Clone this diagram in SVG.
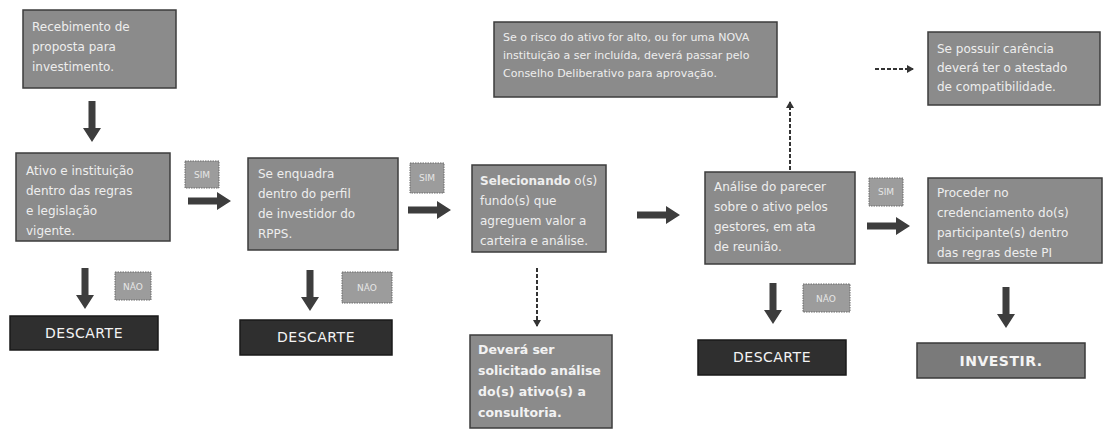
<svg xmlns="http://www.w3.org/2000/svg" width="1108" height="432" viewBox="0 0 1108 432">
<style>
.box{fill:#8b8b8b;stroke:#3c3c3c;stroke-width:1.5}
.tag{fill:#9c9c9c;stroke:#6a6a6a;stroke-width:1;stroke-dasharray:1.5 1}
.dark{fill:#2f2f2f;stroke:#1a1a1a;stroke-width:1.5}
.inv{fill:#7a7a7a;stroke:#3a3a3a;stroke-width:1.5}
.t{font-family:"DejaVu Sans",sans-serif;font-size:12px;fill:#eeeeee}
.ts{font-family:"DejaVu Sans",sans-serif;font-size:11px;fill:#eeeeee}
.tb{font-family:"DejaVu Sans",sans-serif;font-size:12.5px;font-weight:bold;fill:#f2f2f2}
.lbl{font-family:"DejaVu Sans",sans-serif;font-size:9px;fill:#e6e6e6;text-anchor:middle}
.big{font-family:"DejaVu Sans",sans-serif;font-size:14px;fill:#f4f4f4;text-anchor:middle;letter-spacing:0.5px}
.dash{stroke:#333;stroke-width:2;stroke-dasharray:4 2;fill:none;marker-end:url(#ah)}
.thick{fill:#3d3d3d}
</style>
<defs>
<marker id="ah" markerWidth="8" markerHeight="8" refX="6" refY="4" orient="auto" markerUnits="userSpaceOnUse">
<path d="M0,0 L7,4 L0,8 Z" fill="#333"/>
</marker>
<path id="ar" d="M0,-3.5 H29 V-9 L43,0 L29,9 V3.5 H0 Z"/>
<path id="ad" d="M-3.5,0 V27 H-9 L0,41 L9,27 H3.5 V0 Z"/>
</defs>

<g id="connectors">
<use href="#ad" class="thick" x="92" y="101"/>
<use href="#ar" class="thick" x="188" y="201"/>
<use href="#ar" class="thick" x="408" y="210"/>
<use href="#ar" class="thick" x="637" y="215"/>
<use href="#ar" class="thick" x="867" y="226"/>
<use href="#ad" class="thick" x="85" y="268"/>
<use href="#ad" class="thick" x="310" y="270"/>
<use href="#ad" class="thick" x="773" y="283"/>
<use href="#ad" class="thick" x="1006" y="287"/>
<path class="dash" d="M537,268 V326"/>
<path class="dash" d="M790,170 V102"/>
<path class="dash" d="M875,69 H913"/>
</g>

<g id="n1"><rect class="box" x="23" y="10" width="153" height="78"/>
<text class="t" x="32" y="31">Recebimento de</text>
<text class="t" x="32" y="51">proposta para</text>
<text class="t" x="32" y="71">investimento.</text></g>

<g id="n2"><rect class="box" x="16" y="153" width="154" height="88"/>
<text class="t" x="26" y="175">Ativo e instituição</text>
<text class="t" x="26" y="195">dentro das regras</text>
<text class="t" x="26" y="215">e legislação</text>
<text class="t" x="26" y="235">vigente.</text></g>

<g id="sim1"><rect class="tag" x="185" y="161" width="34" height="27"/><text class="lbl" x="202" y="178">SIM</text></g>
<g id="nao1"><rect class="tag" x="115" y="272" width="36" height="28"/><text class="lbl" x="133" y="290">NÃO</text></g>
<g id="d1"><rect class="dark" x="10" y="316" width="148" height="34"/><text class="big" x="84" y="338">DESCARTE</text></g>

<g id="n3"><rect class="box" x="248" y="158" width="150" height="92"/>
<text class="t" x="258" y="178">Se enquadra</text>
<text class="t" x="258" y="198">dentro do perfil</text>
<text class="t" x="258" y="218">de investidor do</text>
<text class="t" x="258" y="238">RPPS.</text></g>

<g id="sim2"><rect class="tag" x="410" y="163" width="34" height="30"/><text class="lbl" x="427" y="181">SIM</text></g>
<g id="nao2"><rect class="tag" x="342" y="272" width="50" height="31"/><text class="lbl" x="367" y="291">NÃO</text></g>
<g id="d2"><rect class="dark" x="240" y="320" width="152" height="35"/><text class="big" x="316" y="342">DESCARTE</text></g>

<g id="n4"><rect class="box" x="472" y="165" width="134" height="87"/>
<text class="t" x="480" y="185"><tspan style="font-weight:bold">Selecionando</tspan> o(s)</text>
<text class="t" x="480" y="205">fundo(s) que</text>
<text class="t" x="480" y="225">agreguem valor a</text>
<text class="t" x="480" y="245">carteira e análise.</text></g>

<g id="n9"><rect class="box" x="470" y="335" width="142" height="93"/>
<text class="tb" x="478" y="354">Deverá ser</text>
<text class="tb" x="478" y="375">solicitado análise</text>
<text class="tb" x="478" y="396">do(s) ativo(s) a</text>
<text class="tb" x="478" y="417">consultoria.</text></g>

<g id="n7"><rect class="box" x="494" y="22" width="283" height="75"/>
<text class="ts" x="503" y="41">Se o risco do ativo for alto, ou for uma NOVA</text>
<text class="ts" x="503" y="59">instituição a ser incluída, deverá passar pelo</text>
<text class="ts" x="503" y="77">Conselho Deliberativo para aprovação.</text></g>

<g id="n8"><rect class="box" x="928" y="32" width="172" height="73"/>
<text class="t" x="937" y="53">Se possuir carência</text>
<text class="t" x="937" y="72">deverá ter o atestado</text>
<text class="t" x="937" y="91">de compatibilidade.</text></g>

<g id="n5"><rect class="box" x="705" y="172" width="150" height="92"/>
<text class="t" x="714" y="191">Análise do parecer</text>
<text class="t" x="714" y="211">sobre o ativo pelos</text>
<text class="t" x="714" y="231">gestores, em ata</text>
<text class="t" x="714" y="251">de reunião.</text></g>

<g id="sim3"><rect class="tag" x="869" y="178" width="34" height="28"/><text class="lbl" x="886" y="195">SIM</text></g>
<g id="nao3"><rect class="tag" x="803" y="284" width="47" height="28"/><text class="lbl" x="826" y="302">NÃO</text></g>
<g id="d3"><rect class="dark" x="698" y="340" width="148" height="35"/><text class="big" x="772" y="362">DESCARTE</text></g>

<g id="n6"><rect class="box" x="928" y="178" width="174" height="85"/>
<text class="t" x="937" y="197">Proceder no</text>
<text class="t" x="937" y="217">credenciamento do(s)</text>
<text class="t" x="937" y="237">participante(s) dentro</text>
<text class="t" x="937" y="257">das regras deste PI</text></g>

<g id="inv"><rect class="inv" x="917" y="343" width="168" height="35"/><text class="big" x="1001" y="366" style="font-weight:bold">INVESTIR.</text></g>
</svg>
